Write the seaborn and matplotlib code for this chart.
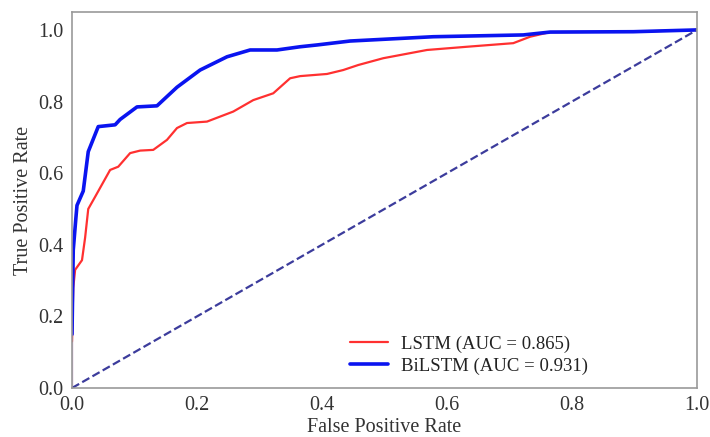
import matplotlib
matplotlib.use("Agg")
import matplotlib.pyplot as plt
import seaborn as sns
import pandas as pd

# LSTM ROC points
lstm_fpr = [0.0, 0.0, 0.002, 0.005, 0.016, 0.021, 0.026, 0.037, 0.061, 0.074, 0.093, 0.109, 0.130,
            0.152, 0.168, 0.184, 0.216, 0.258, 0.290, 0.322, 0.349, 0.365, 0.408, 0.434, 0.458,
            0.498, 0.568, 0.632, 0.706, 0.733, 0.765, 0.898, 1.0]
lstm_tpr = [0.0, 0.26, 0.28, 0.33, 0.357, 0.42, 0.50, 0.534, 0.609, 0.618, 0.656, 0.663, 0.665,
            0.693, 0.726, 0.740, 0.744, 0.772, 0.804, 0.823, 0.865, 0.871, 0.877, 0.888, 0.902,
            0.921, 0.944, 0.953, 0.963, 0.981, 0.994, 0.995, 1.0]

# BiLSTM ROC points
bilstm_fpr = [0.0, 0.0, 0.002, 0.006, 0.008, 0.018, 0.026, 0.042, 0.069, 0.077, 0.104, 0.136,
              0.168, 0.205, 0.248, 0.285, 0.328, 0.365, 0.392, 0.445, 0.578, 0.722, 0.765,
              0.898, 1.0]
bilstm_tpr = [0.0, 0.30, 0.385, 0.47, 0.51, 0.55, 0.66, 0.73, 0.735, 0.75, 0.785, 0.788,
              0.84, 0.888, 0.925, 0.944, 0.944, 0.953, 0.958, 0.969, 0.981, 0.986, 0.994,
              0.995, 1.0]

labels = ["LSTM (AUC = 0.865)", "BiLSTM (AUC = 0.931)"]
ticks = [0.0, 0.2, 0.4, 0.6, 0.8, 1.0]

sns.set_style("white")
plt.rcParams["font.family"] = ["Liberation Serif", "DejaVu Serif"]

fig = plt.figure(figsize=(7.1, 4.37), dpi=100)
ax = fig.add_axes([0.1014, 0.1121, 0.8803, 0.8604])

df_l = pd.DataFrame({"fpr": lstm_fpr, "tpr": lstm_tpr})
df_b = pd.DataFrame({"fpr": bilstm_fpr, "tpr": bilstm_tpr})

sns.lineplot(data=df_l, x="fpr", y="tpr", sort=False, ax=ax, color="#ff3030",
             linewidth=1.6, label=labels[0])
sns.lineplot(data=df_b, x="fpr", y="tpr", sort=False, ax=ax, color="#0a14f0",
             linewidth=2.6, label=labels[1])
ax.plot([0, 1], [0, 1], linestyle="--", color="#3c3c9c", linewidth=1.6)

ax.set_xlim(0, 1.0)
ax.set_ylim(0, 1.05)
ax.set_xticks(ticks)
ax.set_yticks(ticks)
ax.set_xticklabels([f"{t:.1f}" for t in ticks], fontsize=14.5, color="#333333")
ax.set_yticklabels([f"{t:.1f}" for t in ticks], fontsize=14.5, color="#333333")
ax.set_xlabel("False Positive Rate", fontsize=14.5, color="#333333", labelpad=2)
ax.set_ylabel("True Positive Rate", fontsize=14.5, color="#333333", labelpad=4)
ax.tick_params(axis="both", direction="out", length=4, width=1, color="#888888", pad=2)
for s in ax.spines.values():
    s.set_color("#999999")
    s.set_linewidth(1.2)

leg = ax.legend(loc="lower left", bbox_to_anchor=(0.445, 0.035), frameon=False,
                fontsize=13.5, handlelength=2.0, handletextpad=0.7, borderpad=0,
                borderaxespad=0, labelspacing=0.25)
for t in leg.get_texts():
    t.set_color("#222222")

fig.savefig("out.png", dpi=100)
